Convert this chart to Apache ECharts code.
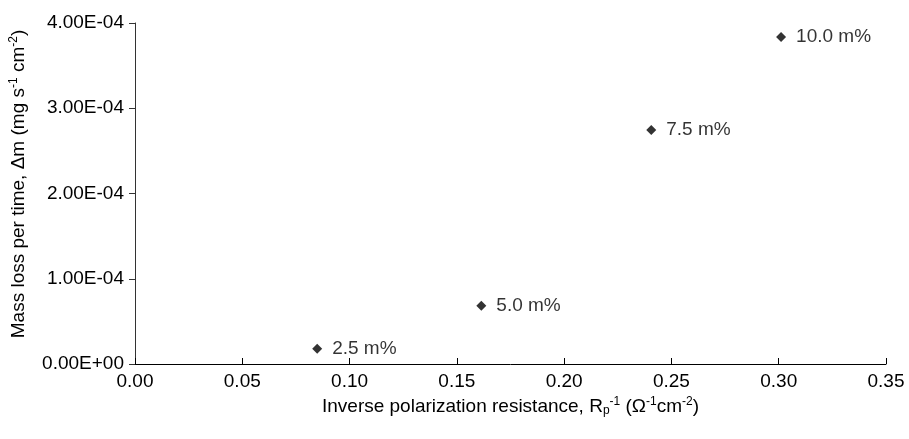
<!DOCTYPE html>
<html>
<head>
<meta charset="utf-8">
<script src="https://cdn.jsdelivr.net/npm/echarts@6/dist/echarts.min.js"></script>
<style>html,body{margin:0;padding:0;background:#fff}#c{width:909px;height:439px}</style>
</head>
<body>
<div id="c"></div>
<script>
const pointLabels = ['2.5 m%', '5.0 m%', '7.5 m%', '10.0 m%'];
const xValues = [0.0849, 0.1614, 0.2406, 0.3011];
const yValues = [1.79e-5, 6.83e-5, 2.746e-4, 3.836e-4];

const chart = echarts.init(document.getElementById('c'));
const font = "'Liberation Sans', Arial, sans-serif";
function expFmt(v) {
  let s = Number(v).toExponential(2).toUpperCase();
  return s.replace(/E([+-])(\d)$/, 'E$10$2');
}
chart.setOption({
  animation: false,
  backgroundColor: '#fff',
  grid: { left: 134.5, right: 23, top: 23, bottom: 75 },
  xAxis: {
    type: 'value', min: 0, max: 0.35, interval: 0.05,
    axisLine: { lineStyle: { color: '#000', width: 1 } },
    axisTick: { show: true, inside: true, length: 6, lineStyle: { color: '#000' } },
    splitLine: { show: false },
    axisLabel: { color: '#000', fontFamily: font, fontSize: 19, margin: 8, formatter: v => v.toFixed(2) },
    name: '{n|Inverse polarization resistance, R}{sub|p}{sup|-1}{n| (Ω}{sup|-1}{n|cm}{sup|-2}{n|)}',
    nameLocation: 'middle', nameGap: 31,
    nameTextStyle: {
      color: '#000', fontFamily: font, fontSize: 19,
      rich: {
        n: { fontSize: 19, fontFamily: font, color: '#000' },
        sub: { fontSize: 12, fontFamily: font, color: '#000', padding: [9, 0, 0, 0] },
        sup: { fontSize: 12, fontFamily: font, color: '#000', padding: [0, 0, 9, 0] }
      }
    }
  },
  yAxis: {
    type: 'value', min: 0, max: 4e-4, interval: 1e-4,
    axisLine: { show: true, lineStyle: { color: '#333', width: 1 } },
    axisTick: { show: true, inside: false, length: 6, lineStyle: { color: '#333' } },
    splitLine: { show: false },
    axisLabel: { color: '#000', fontFamily: font, fontSize: 19, margin: 11, formatter: expFmt },
    name: '{n|Mass loss per time, Δm (mg s}{sup|-1}{n| cm}{sup|-2}{n|)}',
    nameLocation: 'middle', nameGap: 106, nameRotate: 90,
    nameTextStyle: {
      color: '#000', fontFamily: font, fontSize: 19,
      padding: [0, 0, 0, 19],
      rich: {
        n: { fontSize: 19, fontFamily: font, color: '#000' },
        sup: { fontSize: 12, fontFamily: font, color: '#000', padding: [0, 0, 9, 0] }
      }
    }
  },
  series: [{
    type: 'scatter',
    symbol: 'diamond',
    symbolSize: 10,
    itemStyle: { color: '#000' },
    data: xValues.map((x, i) => [x, yValues[i]]),
    label: {
      show: true, position: 'right', distance: 10,
      color: '#000', fontFamily: font, fontSize: 19,
      formatter: p => pointLabels[p.dataIndex]
    }
  }]
});
</script>
</body>
</html>
